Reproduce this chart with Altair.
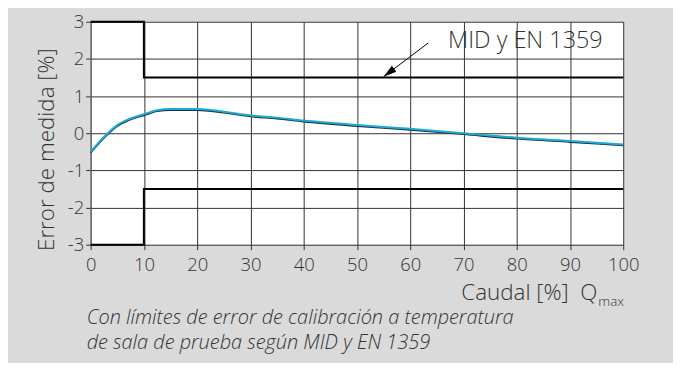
import altair as alt
import pandas as pd

# Curve data (Caudal % of Qmax vs. error %)
flow = [0, 2.5, 5, 7, 10, 12.5, 15, 20, 25, 30, 35, 40, 50, 60, 70, 80, 90, 100]
error = [-0.5, -0.1, 0.22, 0.37, 0.51, 0.62, 0.65, 0.65, 0.58, 0.48, 0.42, 0.34, 0.22, 0.12, 0.0, -0.12, -0.21, -0.30]

# Limit lines (MID y EN 1359)
lim_x = [0, 10, 10, 100]
lim_upper = [3, 3, 1.5, 1.5]
lim_lower = [-3, -3, -1.5, -1.5]

# Annotation
ann_label = "MID y EN 1359"
ann_text_pos = (67.1, 2.28)
arrow_tail = (63.4, 2.43)
arrow_tip = (55.0, 1.52)

x_ticks = list(range(0, 101, 10))
y_ticks = list(range(-3, 4, 1))

caption = ["Con límites de error de calibración a temperatura",
           "de sala de prueba según MID y EN 1359"]

FONT = "Open Sans"
W = 300
TXT = "#333333"

curve_df = pd.DataFrame({"x": flow, "y": error, "o": range(len(flow))})
lim_df = pd.concat([
    pd.DataFrame({"x": lim_x, "y": lim_upper, "g": "up", "o": range(4)}),
    pd.DataFrame({"x": lim_x, "y": lim_lower, "g": "lo", "o": range(4)}),
])

xs = alt.Scale(domain=[0, 100], nice=False)
ys = alt.Scale(domain=[-3, 3], nice=False)

xaxis = alt.Axis(values=x_ticks, grid=True, gridColor="#333333", gridWidth=1, gridOpacity=1,
                 domain=False, tickColor="#333333", tickSize=5, labelFontSize=18.5,
                 labelFont=FONT, labelFontWeight=W, labelColor=TXT, labelPadding=6,
                 labelOverlap=False, labelFlush=False, title=None)
yaxis = alt.Axis(values=y_ticks, grid=True, gridColor="#333333", gridWidth=1, gridOpacity=1,
                 domainColor="#666666", tickColor="#333333", tickSize=5, labelFontSize=18.5,
                 labelFont=FONT, labelFontWeight=W, labelColor=TXT, labelPadding=2,
                 labelOverlap=False, labelFlush=False,
                 labelExpr="replace(datum.label, '\u2212', '-')",
                 title="Error de medida [%]", titleFont=FONT, titleFontSize=22.5,
                 titleFontWeight=W, titleColor=TXT, titleAngle=270,
                 titleX=-37, titleY=128, titleAlign="center", titleBaseline="alphabetic")

X = alt.X("x:Q", scale=xs, axis=xaxis)
Y = alt.Y("y:Q", scale=ys, axis=yaxis)

base_grid = alt.Chart(curve_df).mark_line(opacity=0).encode(x=X, y=Y)

limits = alt.Chart(lim_df).mark_line(color="black", strokeWidth=2).encode(
    x=X, y=Y, detail="g:N", order="o:Q")

shadow = alt.Chart(curve_df).mark_line(color="#163040", strokeWidth=2, interpolate="monotone",
                                       yOffset=0.9).encode(x=X, y=Y, order="o:Q")
curve = alt.Chart(curve_df).mark_line(color="#1fa9d6", strokeWidth=2,
                                      interpolate="monotone").encode(x=X, y=Y, order="o:Q")

arrow_df = pd.DataFrame({"x": [arrow_tail[0]], "y": [arrow_tail[1]],
                         "x2": [arrow_tip[0]], "y2": [arrow_tip[1]]})
arrow_line = alt.Chart(arrow_df).mark_rule(color="black", strokeWidth=1).encode(
    x=X, y=Y, x2="x2:Q", y2="y2:Q")
arrow_head = alt.Chart(arrow_df).mark_point(
    shape="M0,0L-0.28,1L0.28,1Z", filled=True, color="black", opacity=1,
    size=700, angle=233).encode(
    x=alt.X("x2:Q", scale=xs, axis=xaxis), y=alt.Y("y2:Q", scale=ys, axis=yaxis))

ann_df = pd.DataFrame({"x": [ann_text_pos[0]], "y": [ann_text_pos[1]], "t": [ann_label]})
ann = alt.Chart(ann_df).mark_text(align="left", baseline="alphabetic", font=FONT,
                                  fontSize=23.5, fontWeight=W, color=TXT).encode(
    x=X, y=Y, text="t:N")

xt_df = pd.DataFrame({"t": ["Caudal [%]\u00a0\u00a0Q"]})
xtitle = alt.Chart(xt_df).mark_text(align="right", baseline="alphabetic", font=FONT,
                                    fontSize=22.5, fontWeight=W, color=TXT).encode(
    x=alt.value(509), y=alt.value(280), text="t:N")
sub_df = pd.DataFrame({"t": ["max"]})
xsub = alt.Chart(sub_df).mark_text(align="left", baseline="alphabetic", font=FONT,
                                   fontSize=13.5, fontWeight=W, color=TXT).encode(
    x=alt.value(510), y=alt.value(286), text="t:N")

cap_df = pd.DataFrame({"t": caption, "yy": [304, 329]})
cap = alt.Chart(cap_df).mark_text(align="left", baseline="alphabetic", font=FONT,
                                  fontSize=20, fontStyle="italic", fontWeight=W,
                                  color=TXT).encode(
    x=alt.value(-4), y=alt.Y("yy:Q", scale=None), text="t:N")

chart = alt.layer(base_grid, limits, shadow, curve, arrow_line, arrow_head, ann,
                  xtitle, xsub, cap).properties(
    width=535, height=224, autosize="none",
    padding={"left": 83, "top": 13, "right": 50, "bottom": 118},
    background="#dadada",
).configure_view(fill="white", stroke=None)

chart.save("out.html", embed_options={"renderer": "svg", "actions": False})
